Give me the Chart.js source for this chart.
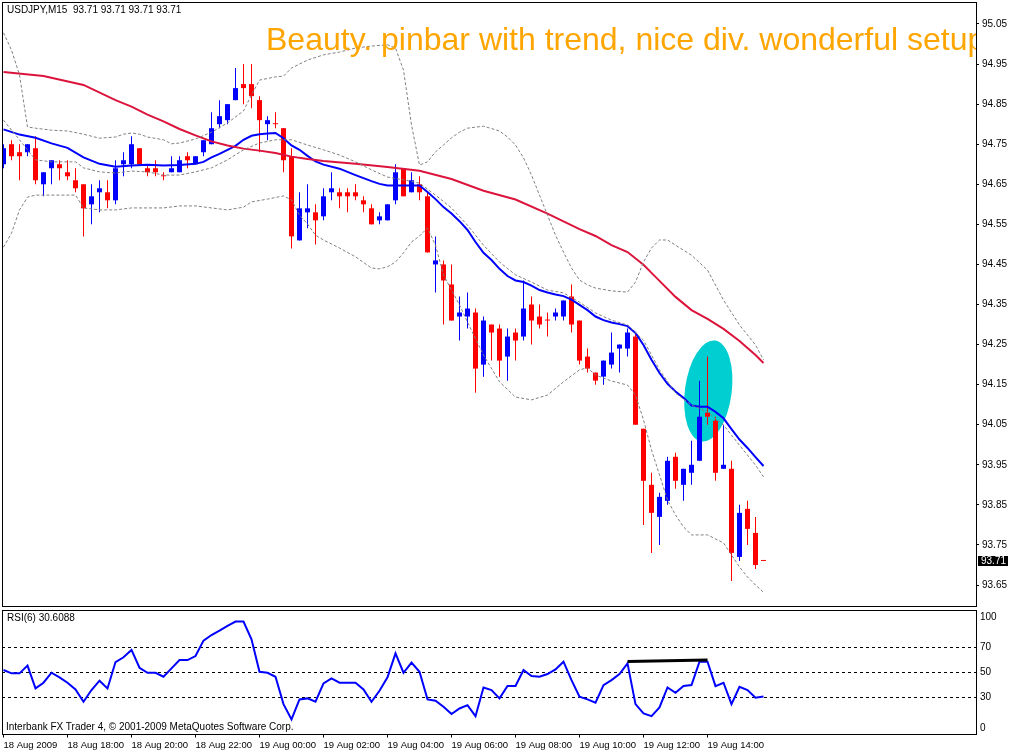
<!DOCTYPE html>
<html><head><meta charset="utf-8">
<script src="https://cdn.jsdelivr.net/npm/chart.js@4.4.1/dist/chart.umd.min.js"></script>
<style>
html,body{margin:0;padding:0;background:#fff;}
#wrap{position:relative;width:1014px;height:752px;overflow:hidden;background:#fff;}
canvas{position:absolute;left:0;}
.lbl{position:absolute;white-space:nowrap;font-family:"Liberation Sans",Arial,sans-serif;color:#000;}
</style></head>
<body>
<div id="wrap">
<canvas id="mainChart" width="1014" height="608" style="top:0"></canvas>
<canvas id="rsiChart" width="1014" height="144" style="top:608px"></canvas>
<div style="position:absolute;left:0;top:0;width:976px;height:606px;overflow:hidden;pointer-events:none">
  <div class="lbl" style="left:266px;top:23px;font-size:32px;line-height:32px;color:#FFA500">Beauty. pinbar with trend, nice div. wonderful setup</div>
</div>
<div class="lbl" style="left:7px;top:4px;font-size:10px;line-height:12px">USDJPY,M15&nbsp; 93.71 93.71 93.71 93.71</div>
<div class="lbl" style="left:7px;top:612px;font-size:10px;line-height:12px">RSI(6) 30.6088</div>
<div class="lbl" style="left:6px;top:721px;font-size:10px;line-height:12px">Interbank FX Trader 4, © 2001-2009 MetaQuotes Software Corp.</div>
</div>
<script>
// ---------------- data (USDJPY M15, one value per bar) ----------------
const openP  = [94.70,94.75,94.73,94.73,94.74,94.65,94.69,94.70,94.68,94.66,94.65,94.60,94.63,94.63,94.61,94.70,94.70,94.74,94.69,94.69,94.67,94.68,94.68,94.72,94.70,94.73,94.75,94.80,94.81,94.86,94.90,94.90,94.86,94.80,94.80,94.79,94.72,94.51,94.58,94.58,94.57,94.63,94.63,94.63,94.63,94.61,94.59,94.56,94.56,94.61,94.69,94.63,94.65,94.62,94.45,94.45,94.40,94.32,94.32,94.33,94.20,94.30,94.29,94.22,94.28,94.27,94.35,94.32,94.31,94.32,94.32,94.37,94.31,94.22,94.18,94.17,94.20,94.24,94.24,94.27,94.04,93.90,93.82,93.86,93.97,93.90,93.93,93.96,94.08,94.06,93.94,93.94,93.72,93.84,93.78,93.71];
const highP  = [94.75,94.76,94.75,94.75,94.77,94.68,94.71,94.71,94.71,94.69,94.65,94.65,94.66,94.66,94.71,94.73,94.77,94.74,94.70,94.71,94.68,94.72,94.72,94.73,94.72,94.76,94.83,94.86,94.85,94.94,94.95,94.95,94.87,94.82,94.83,94.79,94.74,94.63,94.65,94.60,94.64,94.68,94.64,94.64,94.65,94.62,94.60,94.58,94.60,94.70,94.69,94.68,94.67,94.63,94.52,94.46,94.45,94.37,94.38,94.34,94.32,94.30,94.30,94.29,94.29,94.41,94.37,94.35,94.33,94.34,94.36,94.40,94.31,94.24,94.18,94.21,94.28,94.25,94.29,94.28,94.04,93.93,93.88,93.97,93.98,93.94,94.01,94.16,94.22,94.07,94.05,93.96,93.85,93.86,93.82,93.71];
const lowP   = [94.69,94.71,94.66,94.72,94.65,94.62,94.65,94.66,94.66,94.63,94.52,94.55,94.58,94.59,94.60,94.67,94.69,94.70,94.67,94.67,94.66,94.68,94.68,94.69,94.70,94.72,94.75,94.79,94.80,94.86,94.85,94.84,94.73,94.76,94.79,94.68,94.49,94.51,94.54,94.50,94.56,94.61,94.59,94.58,94.61,94.58,94.55,94.55,94.56,94.60,94.62,94.63,94.61,94.48,94.38,94.30,94.31,94.26,94.29,94.13,94.17,94.21,94.17,94.16,94.21,94.26,94.25,94.29,94.27,94.31,94.31,94.28,94.20,94.18,94.15,94.15,94.19,94.18,94.22,94.05,93.80,93.73,93.75,93.85,93.89,93.86,93.90,93.96,94.05,93.91,93.94,93.66,93.71,93.75,93.69,93.71];
const closeP = [94.74,94.72,94.72,94.75,94.66,94.68,94.71,94.69,94.67,94.64,94.59,94.62,94.64,94.61,94.69,94.71,94.75,94.70,94.68,94.68,94.67,94.69,94.71,94.71,94.72,94.76,94.79,94.82,94.85,94.89,94.89,94.87,94.81,94.81,94.80,94.71,94.52,94.59,94.59,94.56,94.62,94.64,94.62,94.62,94.62,94.60,94.55,94.57,94.60,94.68,94.62,94.66,94.63,94.48,94.46,94.41,94.31,94.33,94.34,94.19,94.31,94.28,94.21,94.27,94.26,94.34,94.31,94.30,94.31,94.33,94.36,94.30,94.21,94.19,94.16,94.21,94.23,94.25,94.28,94.05,93.91,93.83,93.87,93.96,93.91,93.94,93.95,94.07,94.07,93.93,93.95,93.73,93.83,93.79,93.70,93.71];

// Indicator lines, read at the listed bar numbers
const blueMaBars = [0,2,4,6,8,10,12,14,16,18,20,22,24,25,26,27,28,29,30,31,32,33,34,35,36,37,38,39,40,42,44,46,47,48,50,52,53,54,55,56,57,58,59,60,61,62,63,64,65,66,67,68,69,70,71,72,73,74,75,76,77,78,79,80,81,82,83,84,85,86,87,88,89,90,91,92,93,94,95];
const blueMa = [94.787,94.774,94.766,94.752,94.741,94.717,94.701,94.694,94.697,94.699,94.697,94.698,94.701,94.706,94.717,94.726,94.736,94.746,94.761,94.771,94.775,94.777,94.778,94.765,94.747,94.736,94.721,94.707,94.699,94.689,94.673,94.658,94.651,94.647,94.647,94.647,94.631,94.613,94.593,94.577,94.558,94.536,94.506,94.479,94.461,94.439,94.421,94.410,94.406,94.397,94.386,94.380,94.375,94.371,94.362,94.349,94.336,94.320,94.311,94.305,94.301,94.296,94.279,94.249,94.212,94.179,94.152,94.133,94.117,94.098,94.095,94.095,94.082,94.066,94.039,94.013,93.992,93.969,93.947];
const redMaBars = [0,5,10,14,16,18,20,22,24,26,28,30,32,34,36,38,40,44,48,52,56,60,64,68,72,74,76,78,80,81,82,84,86,88,90,92,94,95];
const redMa = [94.930,94.920,94.898,94.860,94.844,94.824,94.807,94.788,94.772,94.757,94.747,94.739,94.734,94.728,94.719,94.713,94.708,94.701,94.693,94.684,94.663,94.634,94.612,94.577,94.538,94.521,94.498,94.481,94.449,94.429,94.409,94.369,94.336,94.314,94.289,94.259,94.224,94.204];
const upperBars = [0,1,2,3,4,6,8,10,12,14,15,16,17,18,20,21,22,24,26,28,30,31,32,34,35,36,38,40,42,44,46,48,49,50,51,52,53,54,55,56,57,58,60,62,63,64,65,66,67,68,69,70,71,72,73,74,76,78,79,80,81,82,83,84,86,88,90,92,94,95];
const upperBand = [95.028,94.985,94.923,94.793,94.790,94.785,94.783,94.775,94.765,94.768,94.775,94.778,94.775,94.768,94.761,94.751,94.753,94.763,94.780,94.803,94.833,94.873,94.910,94.918,94.920,94.940,94.960,94.973,94.980,94.990,94.995,94.998,94.990,94.935,94.798,94.698,94.706,94.731,94.748,94.766,94.780,94.790,94.795,94.783,94.768,94.748,94.716,94.673,94.623,94.573,94.523,94.481,94.441,94.411,94.399,94.391,94.384,94.381,94.406,94.456,94.491,94.511,94.511,94.498,94.473,94.436,94.361,94.299,94.249,94.212];
const midBars = [0,2,4,6,9,10,12,14,16,18,20,22,24,26,28,30,32,34,36,38,40,42,44,46,48,50,52,54,56,58,60,62,64,66,68,70,72,74,76,78,80,82,84,86,88,90,92,94,95];
const midBand = [94.810,94.761,94.711,94.706,94.706,94.691,94.681,94.678,94.683,94.681,94.673,94.673,94.681,94.691,94.711,94.736,94.753,94.761,94.761,94.748,94.736,94.723,94.706,94.686,94.668,94.661,94.653,94.623,94.591,94.548,94.498,94.456,94.424,94.406,94.386,94.379,94.356,94.329,94.311,94.299,94.261,94.187,94.129,94.099,94.082,94.049,93.999,93.949,93.920];
const lowerBars = [0,1,2,3,4,9,10,12,14,16,20,22,24,26,28,30,31,33,35,36,37,38,39,40,42,44,46,47,48,49,50,51,52,53,54,55,56,57,58,60,62,64,66,68,70,72,73,74,76,78,79,80,81,82,83,84,85,86,88,90,91,92,93,94,95];
const lowerBand = [94.493,94.528,94.586,94.618,94.623,94.623,94.591,94.586,94.586,94.591,94.591,94.596,94.596,94.591,94.586,94.593,94.606,94.613,94.621,94.611,94.573,94.551,94.523,94.511,94.491,94.469,94.441,94.439,94.444,94.456,94.479,94.506,94.521,94.541,94.498,94.424,94.386,94.349,94.306,94.224,94.157,94.119,94.112,94.124,94.157,94.187,94.192,94.174,94.159,94.149,94.124,94.062,93.987,93.925,93.862,93.825,93.795,93.775,93.775,93.755,93.725,93.695,93.670,93.650,93.632];

// RSI(6), one value per bar
const rsi6 = [51.8,49.1,49.1,55.3,37.0,41.6,49.6,45.9,41.6,36.2,26.3,35.7,43.2,37.0,58.2,62.0,67.9,53.6,49.6,49.6,46.4,53.1,59.8,59.8,63.0,75.4,79.9,83.4,87.2,90.7,90.7,76.5,50.4,49.6,46.4,24.4,12.1,28.2,29.0,26.3,41.0,45.1,41.6,41.6,41.6,36.2,26.3,35.1,45.9,65.2,49.6,57.7,50.4,28.2,27.1,22.3,16.4,20.9,23.6,14.7,37.8,35.7,29.0,38.9,38.9,51.8,46.9,46.4,48.6,52.3,58.5,43.7,30.3,28.2,25.5,39.7,43.7,48.6,57.1,24.4,16.9,14.7,21.7,37.8,33.5,38.9,39.7,58.5,58.5,38.9,41.6,24.4,38.3,35.7,29.5,30.61];
// divergence trend line on RSI (bar, value)
const divBars = [78, 88];
const divRsi = [58.6, 59.8];

// tick labels
const priceTicks = [95.05,94.95,94.85,94.75,94.65,94.55,94.45,94.35,94.25,94.15,94.05,93.95,93.85,93.75,93.65];
const rsiTicks = [100,70,50,30,0];
const timeTickBars = [0,8,16,24,32,40,48,56,64,72,80,88];
const timeTickLabels = ["18 Aug 2009","18 Aug 18:00","18 Aug 20:00","18 Aug 22:00","19 Aug 00:00","19 Aug 02:00","19 Aug 04:00","19 Aug 06:00","19 Aug 08:00","19 Aug 10:00","19 Aug 12:00","19 Aug 14:00"];

// annotation: highlighted ellipse (bar/price centre, half sizes)
const noteEllipse = {bar: 88.1, price: 94.134, halfBars: 2.925, halfPrice: 0.127, tilt: 0.131};

// ---------------- view settings ----------------
const X_MIN = -0.1875, X_MAX = 121.5625;
const Y_MIN = 93.5976, Y_MAX = 95.1049;
const UP = '#0000FF', DOWN = '#FF0000', GREY = '#808080';
const FONT = '"Liberation Sans", Arial, sans-serif';
Chart.defaults.color = '#000';
Chart.defaults.font.family = FONT;

const bars = openP.map((_, i) => i);
const candleColor = bars.map(i => closeP[i] > openP[i] ? UP : DOWN);
const pts = (xs, ys) => xs.map((x, k) => ({x: x, y: ys[k]}));

const framePlugin = {
  id: 'frame',
  afterDraw(chart) {
    const a = chart.chartArea, ctx = chart.ctx;
    const x1 = Math.floor(a.left) + 0.5, x2 = Math.floor(a.right) + 0.5;
    const y1 = Math.floor(a.top) + 0.5, y2 = Math.floor(a.bottom) + 0.5;
    ctx.save();
    ctx.strokeStyle = '#000'; ctx.lineWidth = 1;
    ctx.strokeRect(x1, y1, x2 - x1, y2 - y1);
    ctx.restore();
  }
};

const ellipsePlugin = {
  id: 'noteEllipse',
  beforeDatasetsDraw(chart) {
    const xs = chart.scales.x, ys = chart.scales.y, ctx = chart.ctx, e = noteEllipse;
    const cx = xs.getPixelForValue(e.bar), cy = ys.getPixelForValue(e.price);
    const rx = Math.abs(xs.getPixelForValue(e.bar + e.halfBars) - cx);
    const ry = Math.abs(ys.getPixelForValue(e.price + e.halfPrice) - cy);
    ctx.save();
    ctx.beginPath();
    ctx.ellipse(cx, cy, rx, ry, e.tilt, 0, Math.PI * 2);
    ctx.fillStyle = '#00CED1';
    ctx.fill();
    ctx.restore();
  }
};

const priceBoxPlugin = {
  id: 'priceBox',
  afterDraw(chart) {
    const ys = chart.scales.y, ctx = chart.ctx;
    const last = closeP[closeP.length - 1];
    const y = Math.round(ys.getPixelForValue(last));
    const x0 = chart.chartArea.right + 2;
    ctx.save();
    ctx.fillStyle = '#000';
    ctx.fillRect(x0, y - 5, 30, 10);
    ctx.fillStyle = '#fff';
    ctx.font = '10px ' + FONT;
    ctx.textBaseline = 'middle';
    ctx.textAlign = 'left';
    ctx.fillText(last.toFixed(2), x0 + 3, y + 0.5);
    ctx.restore();
  }
};

const lineDs = (label, xs, ys, color, width, dash) => ({
  type: 'line', label, data: pts(xs, ys), borderColor: color, borderWidth: width,
  borderDash: dash || [], pointRadius: 0, tension: 0, spanGaps: true, order: 0, fill: false
});

new Chart(document.getElementById('mainChart'), {
  type: 'bar',
  data: {
    datasets: [
      lineDs('BB upper', upperBars, upperBand, GREY, 1, [3, 2]),
      lineDs('BB middle', midBars, midBand, GREY, 1, [3, 2]),
      lineDs('BB lower', lowerBars, lowerBand, GREY, 1, [3, 2]),
      lineDs('MA slow', redMaBars, redMa, '#DC143C', 2),
      lineDs('MA fast', blueMaBars, blueMa, '#0000FF', 2),
      {label: 'High-Low', data: bars.map(i => ({x: i, y: [lowP[i], highP[i]]})),
       backgroundColor: candleColor, barThickness: 1, grouped: false, order: 2, inflateAmount: 0, borderWidth: 0},
      {label: 'Open-Close', data: bars.map(i => ({x: i, y: [openP[i], closeP[i]]})),
       backgroundColor: candleColor, barThickness: 5, minBarLength: 1, grouped: false, order: 1, inflateAmount: 0, borderWidth: 0}
    ]
  },
  options: {
    responsive: false, animation: false, devicePixelRatio: 1,
    layout: {padding: {left: 2, top: 2, right: 0, bottom: 2}},
    plugins: {legend: {display: false}, tooltip: {enabled: false}, title: {display: false}},
    scales: {
      x: {type: 'linear', display: false, min: X_MIN, max: X_MAX, offset: false},
      y: {
        position: 'right', min: Y_MIN, max: Y_MAX,
        afterBuildTicks: s => { s.ticks = priceTicks.map(v => ({value: v})); },
        afterFit: s => { s.width = 38; s.paddingTop = 0; s.paddingBottom = 0; },
        grid: {drawOnChartArea: false, drawTicks: true, tickLength: 3, color: '#000'},
        border: {display: false},
        ticks: {padding: 3, color: '#000', autoSkip: false, font: {size: 10, family: FONT},
                callback: v => Number(v).toFixed(2)}
      }
    }
  },
  plugins: [ellipsePlugin, framePlugin, priceBoxPlugin]
});

const rsiLabelPlugin = {
  id: 'rsiEdgeLabels',
  afterDraw(chart) {
    const ctx = chart.ctx, a = chart.chartArea;
    ctx.save();
    ctx.fillStyle = '#000';
    ctx.font = '10px ' + FONT;
    ctx.textAlign = 'left';
    ctx.textBaseline = 'middle';
    ctx.fillText(String(rsiTicks[0]), a.right + 4, a.top + 7);
    ctx.fillText(String(rsiTicks[rsiTicks.length - 1]), a.right + 4, a.bottom - 6);
    ctx.restore();
  }
};

new Chart(document.getElementById('rsiChart'), {
  type: 'line',
  data: {
    datasets: [
      {label: 'Divergence', data: pts(divBars, divRsi), borderColor: '#000', borderWidth: 3, pointRadius: 0, order: 0},
      {label: 'RSI(6)', data: pts(bars, rsi6), borderColor: '#0000FF', borderWidth: 2, pointRadius: 0, tension: 0, order: 1}
    ]
  },
  options: {
    responsive: false, animation: false, devicePixelRatio: 1,
    layout: {padding: {left: 2, top: 2, right: 0, bottom: 0}},
    plugins: {legend: {display: false}, tooltip: {enabled: false}},
    scales: {
      x: {
        type: 'linear', min: X_MIN, max: X_MAX, offset: false,
        afterBuildTicks: s => { s.ticks = timeTickBars.map(v => ({value: v})); },
        afterFit: s => { s.height = 17.5; s.paddingLeft = 0; s.paddingRight = 0; },
        grid: {drawOnChartArea: false, drawTicks: true, tickLength: 3, color: '#000'},
        border: {display: false},
        ticks: {align: 'start', padding: 2, maxRotation: 0, autoSkip: false, color: '#000', font: {size: 9.5, family: FONT},
                callback: v => timeTickLabels[timeTickBars.indexOf(v)] || ''}
      },
      y: {
        position: 'right', min: 0, max: 100,
        afterBuildTicks: s => { s.ticks = rsiTicks.map(v => ({value: v})); },
        afterFit: s => { s.width = 38; s.paddingTop = 0; s.paddingBottom = 0; },
        grid: {drawOnChartArea: true, drawTicks: false, color: c => (c.tick && c.tick.value > 0 && c.tick.value < 100) ? '#000' : 'rgba(0,0,0,0)'},
        border: {display: false, dash: [3, 3]},
        ticks: {padding: 4, color: '#000', autoSkip: false, font: {size: 10, family: FONT},
                callback: v => (v > 0 && v < 100) ? String(v) : ''}
      }
    }
  },
  plugins: [framePlugin, rsiLabelPlugin]
});
</script>
</body></html>
